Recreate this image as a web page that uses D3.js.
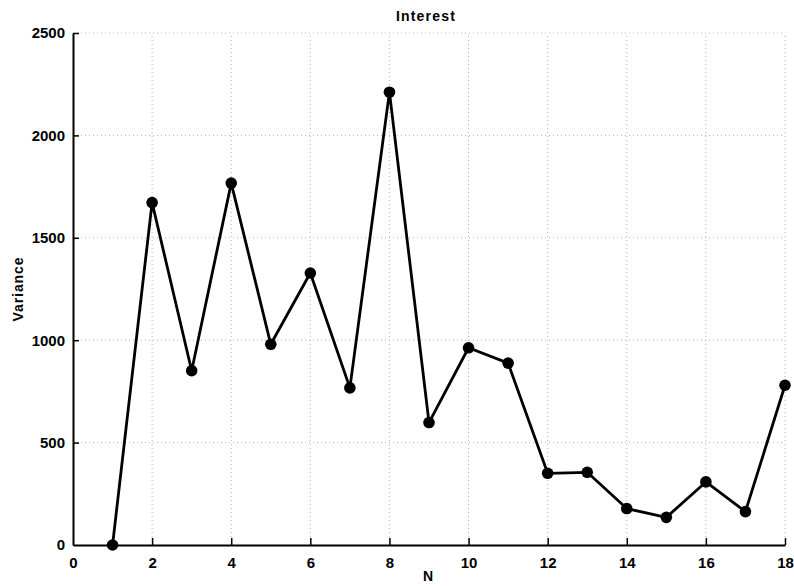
<!DOCTYPE html>
<html>
<head>
<meta charset="utf-8">
<script src="https://cdn.jsdelivr.net/npm/d3@7"></script>
<style>
  html, body { margin: 0; padding: 0; background: #fff; }
  svg { display: block; }
</style>
</head>
<body>
<div id="chart"></div>
<script>
// Variance of the "Interest" series for each N
const nValues = [1, 2, 3, 4, 5, 6, 7, 8, 9, 10, 11, 12, 13, 14, 15, 16, 17, 18];
const variance = [0, 1672, 851, 1767, 980, 1328, 767, 2211, 598, 963, 888, 350, 355, 178, 135, 308, 163, 780];
const xTicks = [0, 2, 4, 6, 8, 10, 12, 14, 16, 18];
const yTicks = [0, 500, 1000, 1500, 2000, 2500];

const W = 794, H = 586;
const margin = { left: 73, right: 9, top: 33, bottom: 41 };

const svg = d3.select("#chart").append("svg")
  .attr("width", W).attr("height", H)
  .style("background", "#fff");

const x = d3.scaleLinear().domain([0, 18]).range([margin.left, W - margin.right]);
const y = d3.scaleLinear().domain([0, 2500]).range([H - margin.bottom, margin.top]);

const font = "'Liberation Sans', Arial, Helvetica, sans-serif";

// dotted grid
const grid = svg.append("g");
grid.selectAll("line.gx").data(xTicks.filter(d => d > 0)).join("line")
  .attr("x1", d => x(d)).attr("x2", d => x(d))
  .attr("y1", y(0)).attr("y2", y(2500))
  .attr("stroke", "#b5b5b5").attr("stroke-width", 1)
  .attr("stroke-dasharray", "1,3");
grid.selectAll("line.gy").data(yTicks.filter(d => d > 0)).join("line")
  .attr("x1", x(0)).attr("x2", x(18))
  .attr("y1", d => y(d)).attr("y2", d => y(d))
  .attr("stroke", "#b5b5b5").attr("stroke-width", 1)
  .attr("stroke-dasharray", "1,3");

// axes with inward ticks
const fmt = d3.format("d");
const xAxis = d3.axisBottom(x).tickValues(xTicks).tickFormat(fmt).tickSizeInner(-7).tickSizeOuter(0).tickPadding(12);
const yAxis = d3.axisLeft(y).tickValues(yTicks).tickFormat(fmt).tickSizeInner(-6).tickSizeOuter(0).tickPadding(8);

const gx = svg.append("g").attr("transform", `translate(0,${y(0)})`).call(xAxis);
const gy = svg.append("g").attr("transform", `translate(${x(0)},0)`).call(yAxis);

[gx, gy].forEach(g => {
  g.select(".domain").attr("stroke", "#000").attr("stroke-width", 2);
  g.selectAll(".tick line").attr("stroke", "#000").attr("stroke-width", 1.5);
  g.selectAll(".tick text")
    .attr("fill", "#000")
    .style("font-family", font)
    .style("font-weight", "bold")
    .style("font-size", "15px");
});
gy.selectAll(".tick line").filter(d => d === 0).remove();
gx.selectAll(".tick line").filter(d => d === 0).remove();

// data line and markers
const line = d3.line().x((d, i) => x(nValues[i])).y(d => y(d));
svg.append("path")
  .datum(variance)
  .attr("d", line)
  .attr("fill", "none")
  .attr("stroke", "#000")
  .attr("stroke-width", 2.8)
  .attr("stroke-linejoin", "round");

svg.append("g").selectAll("circle").data(variance).join("circle")
  .attr("cx", (d, i) => x(nValues[i]))
  .attr("cy", d => y(d))
  .attr("r", 5.8)
  .attr("fill", "#000");

// title and axis labels
svg.append("text")
  .attr("x", 426).attr("y", 21)
  .attr("text-anchor", "middle")
  .style("font-family", font).style("font-weight", "bold").style("font-size", "14px")
  .style("letter-spacing", "1.2px")
  .text("Interest");

svg.append("text")
  .attr("x", 428).attr("y", 581)
  .attr("text-anchor", "middle")
  .style("font-family", font).style("font-weight", "bold").style("font-size", "14px")
  .text("N");

svg.append("text")
  .attr("transform", `translate(23,${(y(0) + y(2500)) / 2}) rotate(-90)`)
  .attr("text-anchor", "middle")
  .style("font-family", font).style("font-weight", "bold").style("font-size", "14px")
  .style("letter-spacing", "0.9px")
  .text("Variance");
</script>
</body>
</html>
